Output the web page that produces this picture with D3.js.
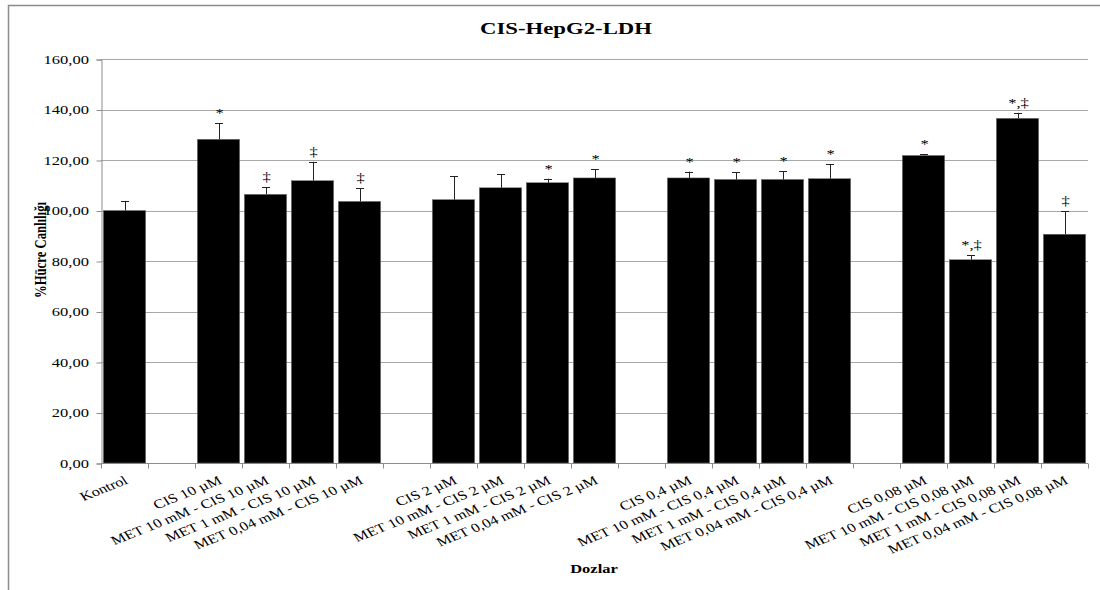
<!DOCTYPE html>
<html>
<head>
<meta charset="utf-8">
<script src="https://cdn.jsdelivr.net/npm/d3@7"></script>
<style>
  body { margin: 0; background: #fff; }
  text { font-family: "Liberation Serif", "Times New Roman", serif; fill: #000; }
</style>
</head>
<body>
<div id="chart"></div>
<script>
// categories (empty strings are the gaps between dose groups)
const categories = [
    "Kontrol", "",
    "CIS 10 µM", "MET 10 mM - CIS 10 µM", "MET 1 mM - CIS 10 µM", "MET 0,04 mM - CIS 10 µM", "",
    "CIS 2 µM", "MET 10 mM - CIS 2 µM", "MET 1 mM - CIS 2 µM", "MET 0,04 mM - CIS 2 µM", "",
    "CIS 0,4 µM", "MET 10 mM - CIS 0,4 µM", "MET 1 mM - CIS 0,4 µM", "MET 0,04 mM - CIS 0,4 µM", "",
    "CIS 0,08 µM", "MET 10 mM - CIS 0,08 µM", "MET 1 mM - CIS 0,08 µM", "MET 0,04 mM - CIS 0,08 µM"
];
const means = [100, null, 128.2, 106.4, 111.8, 103.6, null, 104.3, 109.0, 111.0, 112.9, null,
    112.9, 112.3, 112.3, 112.6, null, 121.8, 80.5, 136.5, 90.6];
const errors = [3.8, null, 6.3, 2.8, 7.5, 5.3, null, 9.2, 5.3, 1.6, 3.5, null,
    2.5, 2.8, 3.3, 5.8, null, 0.5, 1.8, 2.2, 9.1];
const marks = ["", "", "*", "‡", "‡", "‡", "", "", "", "*", "*", "",
    "*", "*", "*", "*", "", "*", "*,‡", "*,‡", "‡"];
const yTicks = [0, 20, 40, 60, 80, 100, 120, 140, 160];

const width = 1100, height = 590;
const plot = {left: 101, right: 1088, top: 59, bottom: 463};
const sx = 1.3; // the reference is stretched horizontally

const fmt = d3.formatLocale({decimal: ",", thousands: ".", grouping: [3], currency: ["", ""]}).format(".2f");

const svg = d3.select("#chart").append("svg")
    .attr("width", width)
    .attr("height", height);

// chart frame
svg.append("rect")
    .attr("x", 8.5).attr("y", 5.5)
    .attr("width", 1200).attr("height", 700)
    .attr("fill", "none")
    .attr("stroke", "#8c8c8c")
    .attr("stroke-width", 1.5);

const idx = d3.range(categories.length);
const x = d3.scaleBand()
    .domain(idx)
    .range([plot.left, plot.right])
    .paddingInner(0.1)
    .paddingOuter(0.05);
const y = d3.scaleLinear()
    .domain([0, 160])
    .range([plot.bottom, plot.top]);

// gridlines
svg.append("g")
    .selectAll("line")
    .data(yTicks.slice(1))
    .enter()
    .append("line")
    .attr("x1", plot.left).attr("x2", plot.right)
    .attr("y1", d => Math.round(y(d)) + 0.5)
    .attr("y2", d => Math.round(y(d)) + 0.5)
    .attr("stroke", "#a8a8a8");

// y axis
const yAxis = svg.append("g")
    .attr("transform", "translate(" + (plot.left + 0.5) + ",0.5)")
    .call(d3.axisLeft(y).tickValues(yTicks).tickSize(5).tickFormat(() => ""));
yAxis.selectAll("path, line").attr("stroke", "#8c8c8c");

svg.append("g")
    .selectAll("text")
    .data(yTicks)
    .enter()
    .append("text")
    .attr("transform", d => "translate(89," + (y(d) + 4.5) + ") scale(" + sx + ",1)")
    .attr("text-anchor", "end")
    .style("font-size", "12.7px")
    .text(d => fmt(d));

// x axis with ticks on category boundaries
const step = x.step();
const xAxis = svg.append("g")
    .attr("transform", "translate(0," + (plot.bottom + 0.5) + ")");
xAxis.append("line")
    .attr("x1", plot.left).attr("x2", plot.right)
    .attr("stroke", "#8c8c8c");
xAxis.selectAll(".tk")
    .data(d3.range(categories.length + 1))
    .enter()
    .append("line")
    .attr("class", "tk")
    .attr("x1", i => Math.round(plot.left + i * step) + 0.5)
    .attr("x2", i => Math.round(plot.left + i * step) + 0.5)
    .attr("y1", 0).attr("y2", 5)
    .attr("stroke", "#8c8c8c");

// bars
const data = idx.filter(i => means[i] !== null);
svg.append("g")
    .selectAll("rect")
    .data(data)
    .enter()
    .append("rect")
    .attr("x", i => x(i))
    .attr("y", i => y(means[i]))
    .attr("width", x.bandwidth())
    .attr("height", i => plot.bottom - y(means[i]))
    .attr("fill", "#000")
    .attr("stroke", "#777")
    .attr("stroke-width", 0.5);

// error bars (upper part)
const eb = svg.append("g").attr("stroke", "#222").attr("stroke-width", 1);
eb.selectAll(".v")
    .data(data)
    .enter()
    .append("line")
    .attr("x1", i => Math.round(x(i) + x.bandwidth() / 2) + 0.5)
    .attr("x2", i => Math.round(x(i) + x.bandwidth() / 2) + 0.5)
    .attr("y1", i => y(means[i]))
    .attr("y2", i => y(means[i] + errors[i]));
eb.selectAll(".c")
    .data(data)
    .enter()
    .append("line")
    .attr("x1", i => x(i) + x.bandwidth() / 2 - 3.5)
    .attr("x2", i => x(i) + x.bandwidth() / 2 + 4.5)
    .attr("y1", i => Math.round(y(means[i] + errors[i])) + 0.5)
    .attr("y2", i => Math.round(y(means[i] + errors[i])) + 0.5);

// significance marks
svg.append("g")
    .selectAll("text")
    .data(data.filter(i => marks[i]))
    .enter()
    .append("text")
    .attr("transform", i => "translate(" + (x(i) + x.bandwidth() / 2 + 1) + "," + (y(means[i] + errors[i]) - 6) + ") scale(" + sx + ",1)")
    .attr("text-anchor", "middle")
    .style("font-size", "12.7px")
    .text(i => marks[i]);

// category labels
svg.append("g")
    .selectAll("text")
    .data(idx.filter(i => categories[i]))
    .enter()
    .append("text")
    .attr("transform", i => "translate(" + (x(i) + x.bandwidth() / 2 - 1) + "," + (plot.bottom + 12) + ") scale(" + sx + ",1) rotate(-27.5)")
    .attr("text-anchor", "end")
    .attr("dy", "0.71em")
    .style("font-size", "12.7px")
    .text(i => categories[i]);

// titles
svg.append("text")
    .attr("transform", "translate(566,34) scale(" + sx + ",1)")
    .attr("text-anchor", "middle")
    .style("font-size", "17.5px")
    .style("font-weight", "bold")
    .text("CIS-HepG2-LDH");

svg.append("text")
    .attr("transform", "translate(594,573) scale(" + sx + ",1)")
    .attr("text-anchor", "middle")
    .style("font-size", "12.7px")
    .style("font-weight", "bold")
    .text("Dozlar");

svg.append("text")
    .attr("transform", "translate(46,250) scale(" + sx + ",1) rotate(-90)")
    .attr("text-anchor", "middle")
    .style("font-size", "12.7px")
    .style("font-weight", "bold")
    .text("%Hücre Canlılığı");
</script>
</body>
</html>
